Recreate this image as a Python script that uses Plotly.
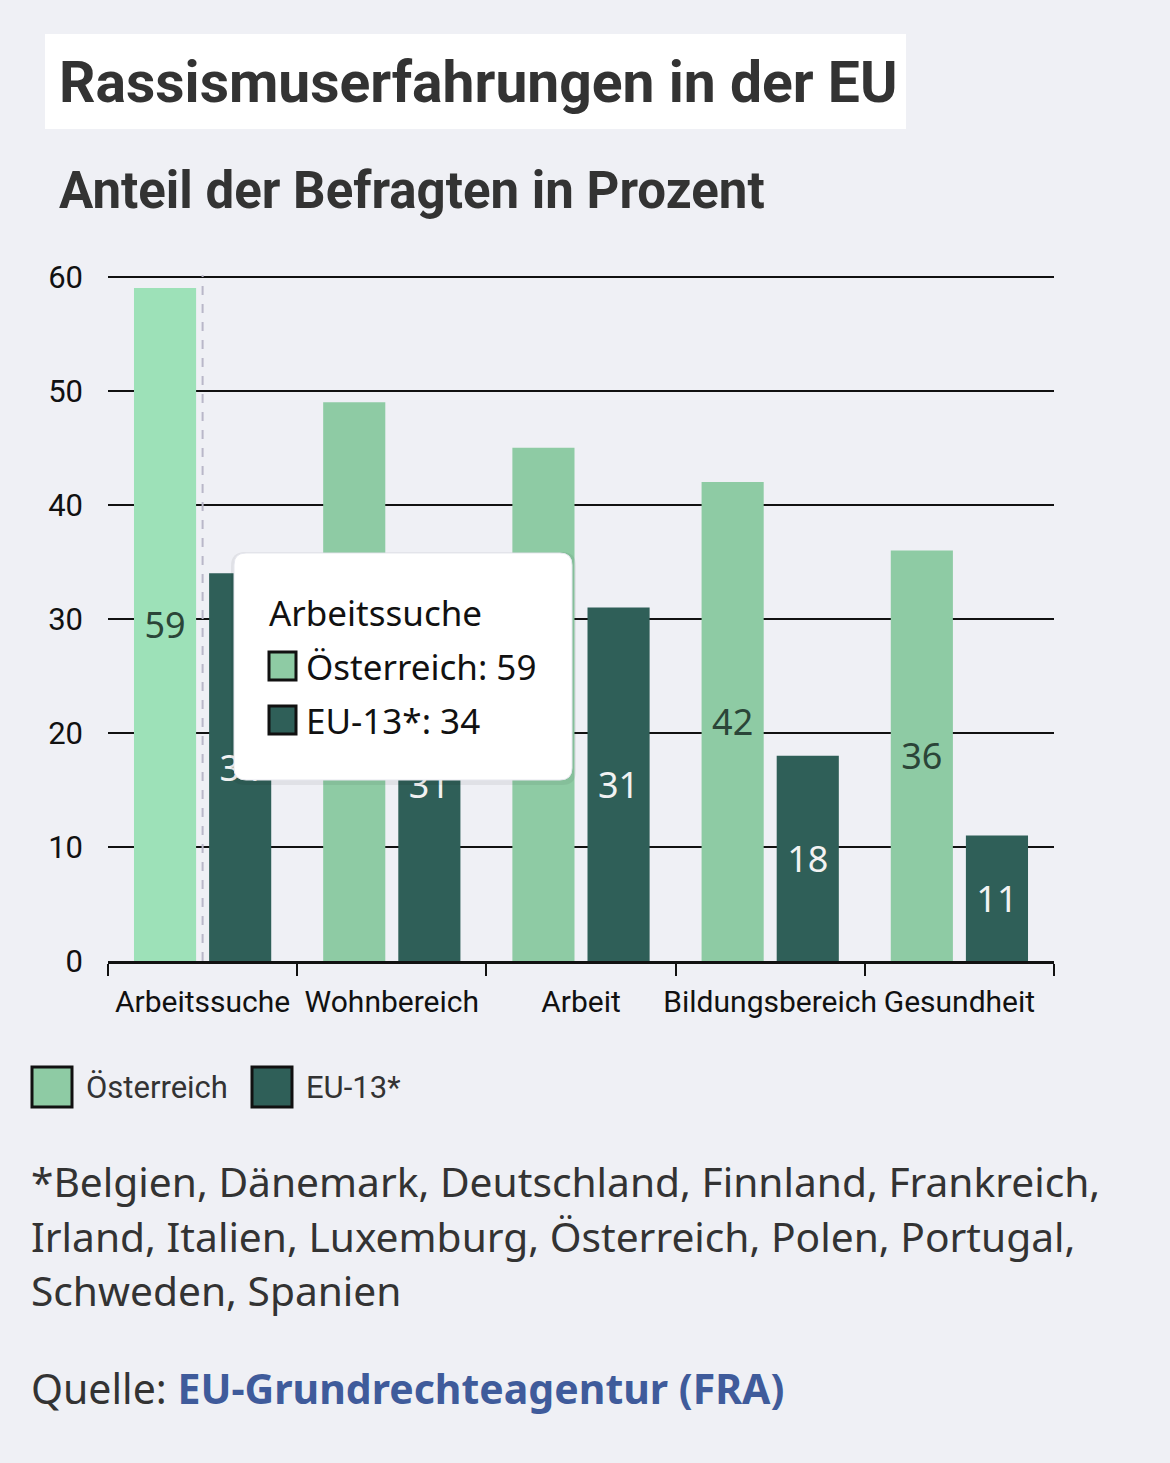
import plotly.graph_objects as go

# data
categories = ["Arbeitssuche", "Wohnbereich", "Arbeit", "Bildungsbereich", "Gesundheit"]
oesterreich = [59, 49, 45, 42, 36]
eu13 = [34, 31, 31, 18, 11]
series_names = ["Österreich", "EU-13*"]
y_ticks = [0, 10, 20, 30, 40, 50, 60]
footnote_lines = [
    "*Belgien, Dänemark, Deutschland, Finnland, Frankreich,",
    "Irland, Italien, Luxemburg, Österreich, Polen, Portugal,",
    "Schweden, Spanien",
]
hover_index = 0

# page geometry (window pixels); the page body has an 8px margin
WIN_W, WIN_H, OFF = 1170, 1463, 8
L, R, T, B = 108, 1054, 275, 961

BG = "#eff0f5"
LIGHT = "#8ecba4"
LIGHT_HOVER = "#9de1b8"
DARK = "#2f5f58"
TEXT = "#333333"
COND = "Roboto, sans-serif"
SANS = "Noto Sans, Open Sans, sans-serif"


def px(x):
    return (x - L) / (R - L)


def py(y):
    return (B - y) / (B - T)


def rounded_rect(x0, y0, x1, y1, r):
    return (f"M {px(x0 + r)},{py(y0)} L {px(x1 - r)},{py(y0)} Q {px(x1)},{py(y0)} {px(x1)},{py(y0 + r)} "
            f"L {px(x1)},{py(y1 - r)} Q {px(x1)},{py(y1)} {px(x1 - r)},{py(y1)} "
            f"L {px(x0 + r)},{py(y1)} Q {px(x0)},{py(y1)} {px(x0)},{py(y1 - r)} "
            f"L {px(x0)},{py(y0 + r)} Q {px(x0)},{py(y0)} {px(x0 + r)},{py(y0)} Z")


light_colors = [LIGHT_HOVER if i == hover_index else LIGHT for i in range(len(categories))]

fig = go.Figure()
fig.add_trace(go.Bar(
    x=categories, y=oesterreich, name=series_names[0],
    marker=dict(color=light_colors, line=dict(width=0)),
    text=oesterreich, textposition="inside", insidetextanchor="middle",
    textangle=0, constraintext="none",
    textfont=dict(family=SANS, size=36, color="#2b4538"),
))
fig.add_trace(go.Bar(
    x=categories, y=eu13, name=series_names[1],
    marker=dict(color=DARK, line=dict(width=0)),
    text=eu13, textposition="inside", insidetextanchor="middle",
    textangle=0, constraintext="none",
    textfont=dict(family=SANS, size=36, color="#f2f2f2"),
))

shapes = []
annotations = []

# title box
shapes.append(dict(type="rect", xref="paper", yref="paper",
                   x0=px(45), x1=px(906), y0=py(129), y1=py(34),
                   fillcolor="white", line=dict(width=0), layer="below"))
annotations.append(dict(text="<b>Rassismuserfahrungen in der EU</b>", xref="paper", yref="paper",
                        x=px(57), y=py(82), xanchor="left", yanchor="middle", showarrow=False,
                        font=dict(family=COND, size=57, color=TEXT)))
annotations.append(dict(text="<b>Anteil der Befragten in Prozent</b>", xref="paper", yref="paper",
                        x=px(57), y=py(190), xanchor="left", yanchor="middle", showarrow=False,
                        font=dict(family=COND, size=51, color=TEXT)))

# hover line
shapes.append(dict(type="line", xref="x", yref="paper", x0=hover_index, x1=hover_index,
                   y0=0, y1=1, line=dict(color="#b9b7c9", width=2, dash="dash"), layer="above"))

# tooltip with a faint shadow
shapes.append(dict(type="path", xref="paper", yref="paper",
                   path=rounded_rect(231, 552, 576, 785, 14),
                   fillcolor="rgba(0,0,0,0.06)", line=dict(width=0), layer="above"))
shapes.append(dict(type="path", xref="paper", yref="paper",
                   path=rounded_rect(234, 553, 572, 780, 12),
                   fillcolor="white", line=dict(color="#e6e7ee", width=1), layer="above"))
annotations.append(dict(text=categories[hover_index], xref="paper", yref="paper",
                        x=px(267), y=py(612), xanchor="left", yanchor="middle", showarrow=False,
                        font=dict(family=SANS, size=35, color="#111111")))
tip_rows = [(series_names[0], oesterreich[hover_index], LIGHT, 666),
            (series_names[1], eu13[hover_index], DARK, 720)]
for name, val, col, yy in tip_rows:
    shapes.append(dict(type="rect", xref="paper", yref="paper",
                       x0=px(269), x1=px(296), y0=py(yy + 14), y1=py(yy - 14),
                       fillcolor=col, line=dict(color="#111111", width=3), layer="above"))
    annotations.append(dict(text=f"{name}: {val}", xref="paper", yref="paper",
                            x=px(304), y=py(yy), xanchor="left", yanchor="middle", showarrow=False,
                            font=dict(family=SANS, size=35, color="#111111")))

# legend
legend_items = [(series_names[0], LIGHT, 31), (series_names[1], DARK, 251)]
for name, col, lx in legend_items:
    shapes.append(dict(type="rect", xref="paper", yref="paper",
                       x0=px(lx + 1), x1=px(lx + 41), y0=py(1107), y1=py(1067),
                       fillcolor=col, line=dict(color="#111111", width=3)))
    annotations.append(dict(text=name, xref="paper", yref="paper",
                            x=px(lx + 53), y=py(1087), xanchor="left", yanchor="middle",
                            showarrow=False, font=dict(family=COND, size=31, color=TEXT)))

# footnote and source
for i, line in enumerate(footnote_lines):
    annotations.append(dict(text=line, xref="paper", yref="paper",
                            x=px(29), y=py(1181 + 54.5 * i), xanchor="left", yanchor="middle",
                            showarrow=False, font=dict(family=SANS, size=40.7, color=TEXT)))
annotations.append(dict(text="Quelle: <b><span style='color:#3f5b9b'>EU-Grundrechteagentur (FRA)</span></b>",
                        xref="paper", yref="paper", x=px(29), y=py(1388), xanchor="left",
                        yanchor="middle", showarrow=False,
                        font=dict(family=SANS, size=41, color=TEXT)))

fig.update_layout(
    width=WIN_W - OFF, height=WIN_H - OFF,
    margin=dict(l=L - OFF, r=WIN_W - R, t=T - OFF, b=WIN_H - B, pad=0),
    paper_bgcolor=BG, plot_bgcolor=BG,
    barmode="group", bargap=0.206, bargroupgap=0.173,
    showlegend=False,
    shapes=shapes, annotations=annotations,
    xaxis=dict(
        type="category", tickson="boundaries", ticks="outside", ticklen=12,
        tickwidth=2, tickcolor="#111111", showline=True, linecolor="#111111", linewidth=3,
        showgrid=False, tickangle=0, ticklabelstandoff=12,
        tickfont=dict(family=COND, size=30, color="#111111"),
    ),
    yaxis=dict(
        range=[0, 60.15], tickvals=y_ticks, showgrid=True, gridcolor="#111111", gridwidth=2,
        zeroline=False, showline=False, ticks="", ticklabelstandoff=24,
        tickfont=dict(family=COND, size=31, color="#111111"),
    ),
)

# paint the page margin in the chart background too
fig.write_html(
    "out.html",
    post_script=f"document.body.style.background='{BG}';"
                f"document.documentElement.style.background='{BG}';",
)
